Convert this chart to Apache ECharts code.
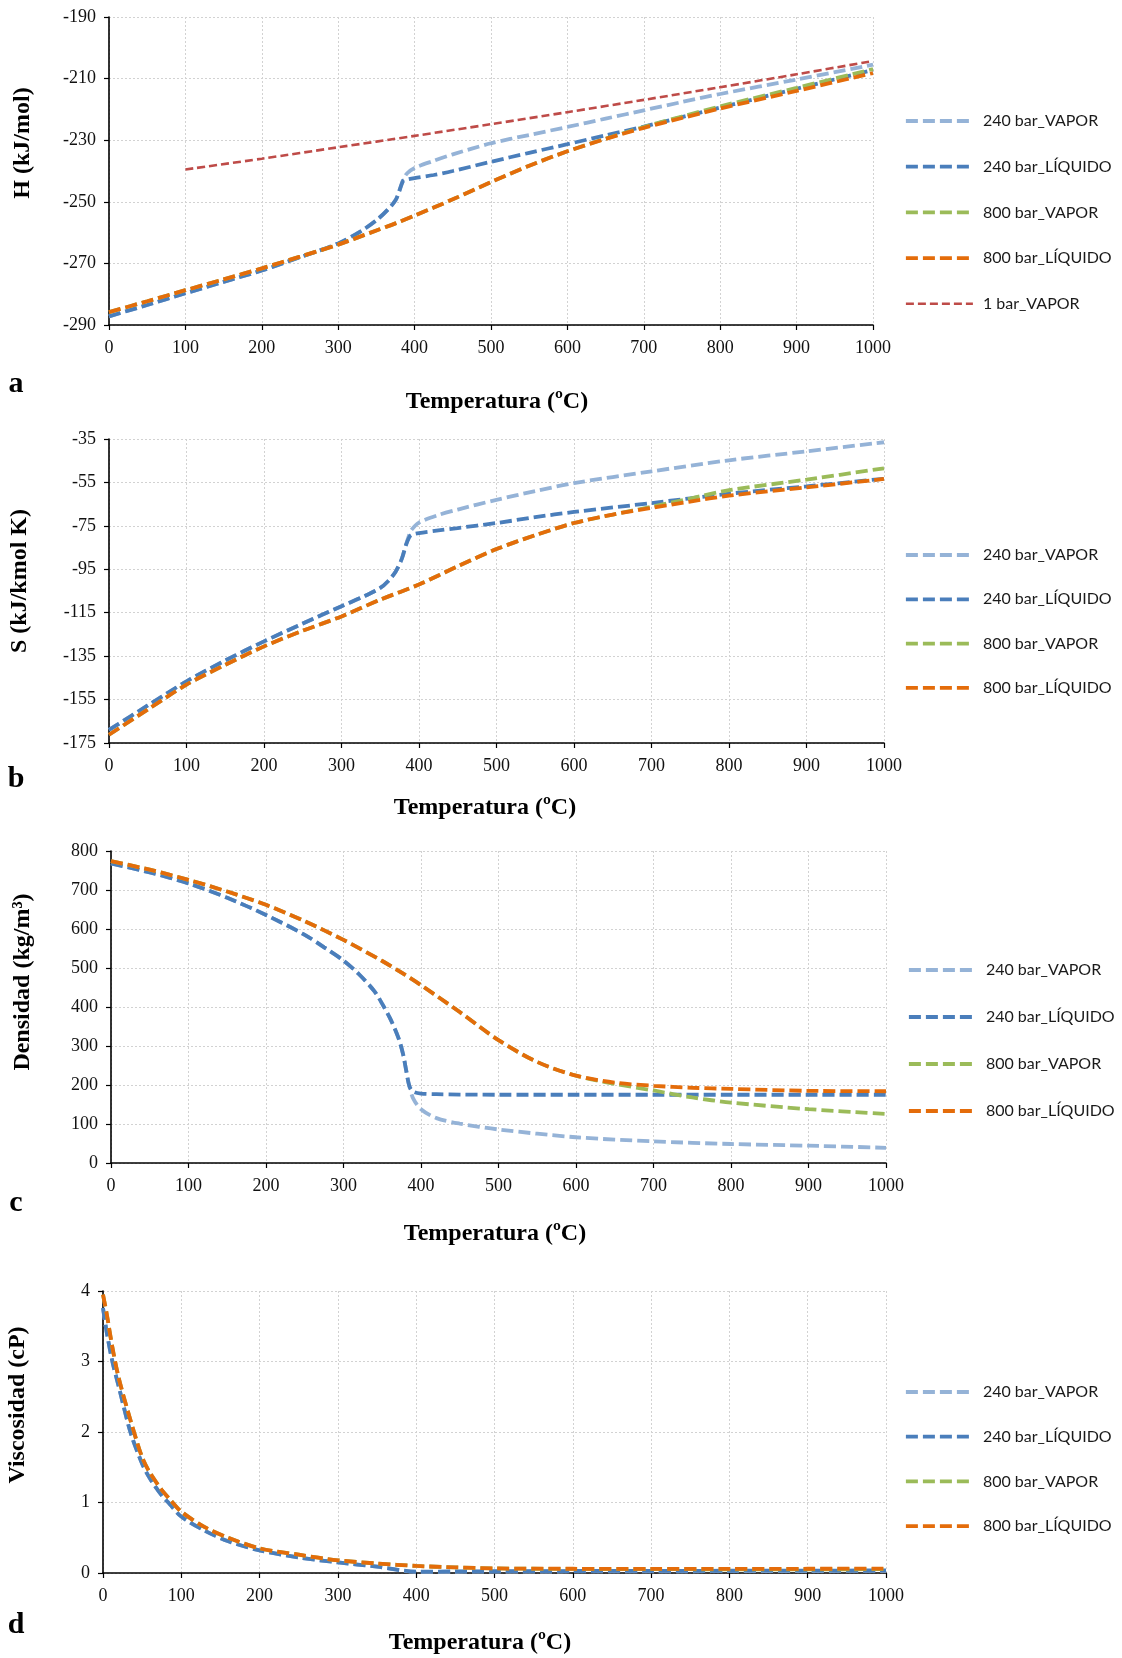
<!DOCTYPE html>
<html>
<head>
<meta charset="utf-8">
<script src="https://cdn.jsdelivr.net/npm/echarts@6.0.0/dist/echarts.min.js"></script>
<style>
html, body { margin: 0; padding: 0; background: #fff; }
#chart { width: 1122px; height: 1658px; }
</style>
</head>
<body>
<div id="chart"></div>
<script>
// nombres de las series
const names = ['240 bar_VAPOR', '240 bar_LÍQUIDO', '800 bar_VAPOR', '800 bar_LÍQUIDO', '1 bar_VAPOR'];

// a - entalpía H (kJ/mol)
const tA240 = [0, 50, 100, 150, 200, 250, 300, 330, 350, 365, 375, 380, 385, 390, 400, 425, 450, 500, 550, 600, 650, 700, 750, 800, 900, 1000];
const hA240Vapor = [-287.2, -283.5, -279.7, -276, -272.3, -268, -263.5, -259.5, -256, -252.5, -249.5, -246.5, -242.8, -240.8, -239, -236.7, -234.6, -231, -228.3, -225.7, -223, -220.3, -217.6, -215, -210.3, -205.5];
const hA240Liq = [-287.2, -283.5, -279.7, -276, -272.3, -268, -263.5, -259.5, -256, -252.5, -249.5, -246.5, -243.2, -242.8, -242.3, -241.3, -240, -237, -234.1, -231.3, -228.4, -225.6, -222.5, -219.4, -213.3, -207.2];
const tA800 = [0, 50, 100, 150, 200, 250, 300, 350, 375, 400, 450, 500, 550, 600, 650, 700, 750, 800, 900, 1000];
const hA800Vapor = [-285.8, -282.3, -278.7, -275.2, -271.6, -267.8, -263.9, -259.3, -257, -254.5, -249.2, -243.6, -238.3, -233.6, -229.5, -225.7, -222.3, -219, -213, -206.9];
const hA800Liq = [-285.8, -282.3, -278.7, -275.2, -271.6, -267.8, -263.9, -259.3, -257, -254.5, -249.2, -243.6, -238.3, -233.6, -229.6, -226, -222.8, -219.7, -214, -208.2];
const tA1 = [100, 200, 300, 400, 500, 600, 700, 800, 900, 1000];
const hA1Vapor = [-239.5, -236, -232.3, -228.6, -224.8, -220.9, -216.9, -212.8, -208.6, -204.3];

// b - entropía S (kJ/kmol K)
const tB240 = [0, 50, 100, 150, 200, 250, 300, 330, 350, 360, 370, 378, 383, 387, 390, 400, 425, 450, 500, 550, 600, 700, 800, 900, 1000];
const sB240Vapor = [-169, -157.7, -146.6, -137, -128.2, -120, -112, -107.3, -103.6, -100.5, -96, -90, -84, -79.5, -77, -73.5, -70, -67.5, -63, -59, -55.3, -49.9, -44.8, -40.7, -36.5];
const sB240Liq = [-169, -157.7, -146.6, -137, -128.2, -120, -112, -107.3, -103.6, -100.5, -96, -90, -84, -80.5, -79.2, -78.3, -77.1, -76, -73.7, -71, -68.6, -64.5, -60.2, -56.8, -53.3];
const tB800 = [0, 50, 100, 150, 200, 250, 300, 350, 400, 450, 500, 550, 600, 650, 700, 750, 800, 900, 1000];
const sB800Vapor = [-171.2, -159.6, -148.1, -139, -130.5, -123.3, -116.7, -109, -102, -93.6, -85.7, -79.3, -73.7, -69.8, -66.2, -62.4, -58.6, -53.7, -48.5];
const sB800Liq = [-171.2, -159.6, -148.1, -139, -130.5, -123.3, -116.7, -109, -102, -93.6, -85.7, -79.3, -73.7, -69.8, -66.7, -63.8, -61.1, -57.3, -53.4];

// c - densidad (kg/m3)
const tC240 = [0, 50, 100, 150, 200, 250, 275, 300, 320, 340, 350, 362, 371, 377, 381, 385, 390, 400, 420, 450, 500, 600, 700, 800, 900, 1000];
const dC240Vapor = [768, 745, 717, 680, 636, 585, 553, 519, 484, 440, 408, 363, 320, 278, 236, 197, 165, 138, 115, 101, 86, 66, 55.5, 48.7, 44.4, 39];
const dC240Liq = [768, 745, 717, 680, 636, 585, 553, 519, 484, 440, 408, 363, 320, 278, 236, 197, 183, 178, 176.5, 175.5, 175, 175, 175, 175, 175, 175];
const tC800 = [0, 50, 100, 150, 200, 250, 300, 350, 375, 400, 450, 500, 550, 600, 650, 700, 750, 800, 900, 1000];
const dC800Vapor = [774, 752, 726, 696, 662, 620, 572, 518, 488, 456, 387, 315, 259, 224, 203, 186, 168, 155, 138, 126];
const dC800Liq = [774, 752, 726, 696, 662, 620, 572, 518, 488, 456, 387, 315, 259, 224, 206, 198, 193, 190, 185, 184];

// d - viscosidad (cP)
const tD = [0, 5, 12, 20, 35, 50, 60, 75, 85, 100, 130, 160, 200, 250, 300, 350, 400, 450, 500, 600, 700, 800, 900, 1000];
const vD240Vapor = [3.76, 3.4, 3.0, 2.65, 2.0, 1.55, 1.34, 1.1, 0.98, 0.8, 0.6, 0.45, 0.32, 0.22, 0.15, 0.09, 0.015, 0.018, 0.02, 0.022, 0.024, 0.026, 0.028, 0.03];
const vD240Liq = [3.76, 3.4, 3.0, 2.65, 2.0, 1.55, 1.34, 1.1, 0.98, 0.8, 0.6, 0.45, 0.32, 0.22, 0.15, 0.09, 0.02, 0.022, 0.025, 0.028, 0.03, 0.032, 0.034, 0.036];
const vD800Vapor = [3.95, 3.66, 3.2, 2.77, 2.17, 1.64, 1.42, 1.18, 1.05, 0.87, 0.65, 0.5, 0.35, 0.26, 0.18, 0.135, 0.1, 0.08, 0.065, 0.058, 0.055, 0.053, 0.053, 0.054];
const vD800Liq = [3.95, 3.66, 3.2, 2.77, 2.17, 1.64, 1.42, 1.18, 1.05, 0.87, 0.65, 0.5, 0.35, 0.26, 0.18, 0.135, 0.1, 0.08, 0.065, 0.06, 0.058, 0.058, 0.06, 0.062];

const pair = (xs, ys) => xs.map((x, i) => [x, ys[i]]);

const colors = ['#95B3D7', '#4A7EBB', '#9BBB59', '#E46C0A', '#BE4B48'];
const serif = 'Liberation Serif';

// posiciones de las 4 gráficas
const grids = [
    { left: 109, top: 17, width: 764, height: 308 },
    { left: 109, top: 439, width: 775, height: 304 },
    { left: 111, top: 851, width: 775, height: 312 },
    { left: 103, top: 1291, width: 783, height: 282 }
];
const yRanges = [[-290, -190, 20], [-175, -35, 20], [0, 800, 100], [0, 4, 1]];

function line(k, xs, ys, idx) {
    const thin = k === 4;
    return {
        name: names[k],
        type: 'line',
        xAxisIndex: idx,
        yAxisIndex: idx,
        data: pair(xs, ys),
        symbol: 'none',
        showSymbol: false,
        smooth: 0.3,
        lineStyle: {
            color: colors[k],
            width: thin ? 2.6 : 3.8,
            type: thin ? [8, 4] : [12, 5]
        },
        itemStyle: { color: colors[k] },
        z: 2 + k
    };
}

const series = [
    line(0, tA240, hA240Vapor, 0),
    line(1, tA240, hA240Liq, 0),
    line(2, tA800, hA800Vapor, 0),
    line(3, tA800, hA800Liq, 0),
    line(4, tA1, hA1Vapor, 0),
    line(0, tB240, sB240Vapor, 1),
    line(1, tB240, sB240Liq, 1),
    line(2, tB800, sB800Vapor, 1),
    line(3, tB800, sB800Liq, 1),
    line(0, tC240, dC240Vapor, 2),
    line(1, tC240, dC240Liq, 2),
    line(2, tC800, dC800Vapor, 2),
    line(3, tC800, dC800Liq, 2),
    line(0, tD, vD240Vapor, 3),
    line(1, tD, vD240Liq, 3),
    line(2, tD, vD800Vapor, 3),
    line(3, tD, vD800Liq, 3)
];

const gridLine = { show: true, lineStyle: { color: '#d2d2d2', width: 1, type: [2, 2] } };
const axisLine = { show: true, onZero: false, lineStyle: { color: '#000', width: 1.6 } };
const axisTick = { show: true, length: 5, lineStyle: { color: '#000', width: 1.2 } };
const tickFont = { fontFamily: serif, fontSize: 18, color: '#111' };

const xAxis = grids.map((g, i) => ({
    type: 'value', gridIndex: i, min: 0, max: 1000, interval: 100,
    axisLine, axisTick, splitLine: gridLine,
    axisLabel: Object.assign({ margin: 14, formatter: v => String(v) }, tickFont)
}));
const yAxis = yRanges.map((r, i) => ({
    type: 'value', gridIndex: i, min: r[0], max: r[1], interval: r[2],
    axisLine, axisTick, splitLine: gridLine,
    axisLabel: Object.assign({ margin: 13, formatter: v => String(v) }, tickFont)
}));

// leyendas
const legendPos = [
    { left: 904, top: 113, gap: 29.7, n: 5 },
    { left: 904, top: 547, gap: 28.3, n: 4 },
    { left: 907, top: 962, gap: 31, n: 4 },
    { left: 904, top: 1384, gap: 28.7, n: 4 }
];
const legend = legendPos.map(p => ({
    orient: 'vertical',
    left: p.left,
    top: p.top,
    padding: 0,
    itemWidth: 67,
    itemHeight: 16,
    itemGap: p.gap,
    selectedMode: false,
    data: names.slice(0, p.n),
    itemStyle: { opacity: 0 },
    lineStyle: { width: 'inherit' },
    textStyle: { fontFamily: 'Lato', fontSize: 16, color: '#1a1a1a', lineHeight: 16, padding: [0, 0, 0, 5] }
}));

// textos: títulos de ejes y letras
const bold = { fontFamily: serif, fontWeight: 'bold', fill: '#000' };
function label(text, x, y, size, rot) {
    return {
        type: 'text', x, y, rotation: rot ? Math.PI / 2 : 0,
        style: Object.assign({ text, fontSize: size, align: 'center', verticalAlign: 'middle' }, bold)
    };
}
const graphic = [
    label('H (kJ/mol)', 23, 143, 24, true),
    label('S (kJ/kmol K)', 20, 581, 24, true),
    label('Densidad (kg/m³)', 23, 982, 24, true),
    label('Viscosidad (cP)', 18, 1405, 24, true),
    label('Temperatura (ºC)', 497, 402, 24),
    label('Temperatura (ºC)', 485, 808, 24),
    label('Temperatura (ºC)', 495, 1234, 24),
    label('Temperatura (ºC)', 480, 1643, 24),
    label('a', 16, 384, 30),
    label('b', 16, 779, 30),
    label('c', 16, 1203, 30),
    label('d', 16, 1625, 30)
];

const option = {
    backgroundColor: '#fff',
    animation: false,
    grid: grids,
    xAxis,
    yAxis,
    legend,
    graphic,
    series
};

const myChart = echarts.init(document.getElementById('chart'));
myChart.setOption(option);
</script>
</body>
</html>
